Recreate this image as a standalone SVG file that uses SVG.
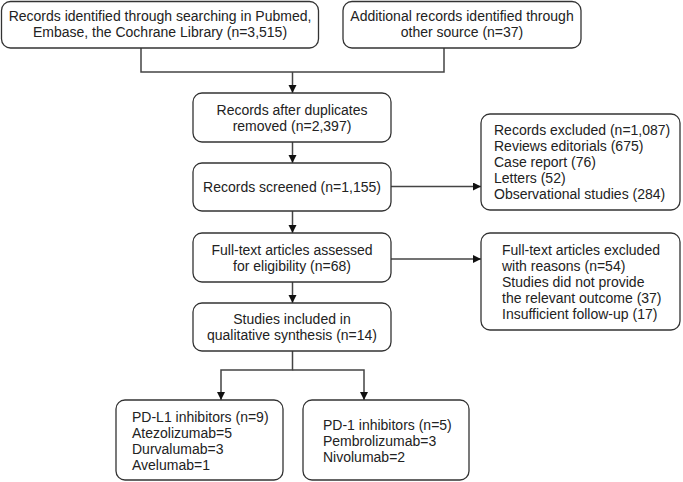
<svg xmlns="http://www.w3.org/2000/svg" width="683" height="482" viewBox="0 0 683 482">
<style>
.box{fill:#fff;stroke:#333;stroke-width:1.3}
.t{font-family:"Liberation Sans",Arial,sans-serif;font-size:14px;fill:#222}
.c{text-anchor:middle}
.ln{fill:none;stroke:#444;stroke-width:1.5}
</style>
<defs>
<marker id="ah" markerUnits="userSpaceOnUse" markerWidth="9" markerHeight="9" refX="8" refY="4" orient="auto">
<path d="M0,0 L8,4 L0,8 z" fill="#111"/>
</marker>
</defs>
<rect width="683" height="482" fill="#fff"/>
<g id="connectors">
<path class="ln" d="M141,48 V72 H444 V48"/>
<path class="ln" d="M292.5,72 V93" marker-end="url(#ah)"/>
<path class="ln" d="M292.5,142 V163" marker-end="url(#ah)"/>
<path class="ln" d="M391,186.5 H481" marker-end="url(#ah)"/>
<path class="ln" d="M292.5,211 V233" marker-end="url(#ah)"/>
<path class="ln" d="M391,259 H481" marker-end="url(#ah)"/>
<path class="ln" d="M292.5,282 V303" marker-end="url(#ah)"/>
<path class="ln" d="M292.5,351 V370 H221 V400" marker-end="url(#ah)"/>
<path class="ln" d="M292.5,370 H364 V400" marker-end="url(#ah)"/>
</g>
<g id="n1">
<rect class="box" x="1.5" y="1.5" width="317" height="46.5" rx="9"/>
<text class="t c" x="160" y="21">Records identified through searching in Pubmed,</text>
<text class="t c" x="160" y="37">Embase, the Cochrane Library (n=3,515)</text>
</g>
<g id="n2">
<rect class="box" x="343" y="1.5" width="238" height="46.5" rx="9"/>
<text class="t c" x="462" y="21">Additional records identified through</text>
<text class="t c" x="462" y="37">other source (n=37)</text>
</g>
<g id="n3">
<rect class="box" x="193" y="93" width="198" height="49" rx="9"/>
<text class="t c" x="292" y="115">Records after duplicates</text>
<text class="t c" x="292" y="131">removed (n=2,397)</text>
</g>
<g id="n4">
<rect class="box" x="193" y="163" width="198" height="48" rx="9"/>
<text class="t c" x="292" y="192">Records screened (n=1,155)</text>
</g>
<g id="n5">
<rect class="box" x="481" y="114" width="199" height="96" rx="9"/>
<text class="t" x="494" y="135">Records excluded (n=1,087)</text>
<text class="t" x="494" y="151">Reviews editorials (675)</text>
<text class="t" x="494" y="167">Case report (76)</text>
<text class="t" x="494" y="183">Letters (52)</text>
<text class="t" x="494" y="199">Observational studies (284)</text>
</g>
<g id="n6">
<rect class="box" x="193" y="233" width="198" height="49" rx="9"/>
<text class="t c" x="292" y="255">Full-text articles assessed</text>
<text class="t c" x="292" y="271">for eligibility (n=68)</text>
</g>
<g id="n7">
<rect class="box" x="481" y="233" width="199" height="97" rx="9"/>
<text class="t" x="502" y="255">Full-text articles excluded</text>
<text class="t" x="502" y="271">with reasons (n=54)</text>
<text class="t" x="502" y="287">Studies did not provide</text>
<text class="t" x="502" y="303">the relevant outcome (37)</text>
<text class="t" x="502" y="319">Insufficient follow-up (17)</text>
</g>
<g id="n8">
<rect class="box" x="193" y="303" width="198" height="48" rx="9"/>
<text class="t c" x="292" y="324">Studies included in</text>
<text class="t c" x="292" y="340">qualitative synthesis (n=14)</text>
</g>
<g id="n9">
<rect class="box" x="116" y="400" width="167" height="80" rx="9"/>
<text class="t" x="132" y="422">PD-L1 inhibitors (n=9)</text>
<text class="t" x="132" y="438">Atezolizumab=5</text>
<text class="t" x="132" y="454">Durvalumab=3</text>
<text class="t" x="132" y="470">Avelumab=1</text>
</g>
<g id="n10">
<rect class="box" x="303" y="400" width="166" height="80" rx="9"/>
<text class="t" x="323" y="430">PD-1 inhibitors (n=5)</text>
<text class="t" x="323" y="446">Pembrolizumab=3</text>
<text class="t" x="323" y="462">Nivolumab=2</text>
</g>
</svg>
